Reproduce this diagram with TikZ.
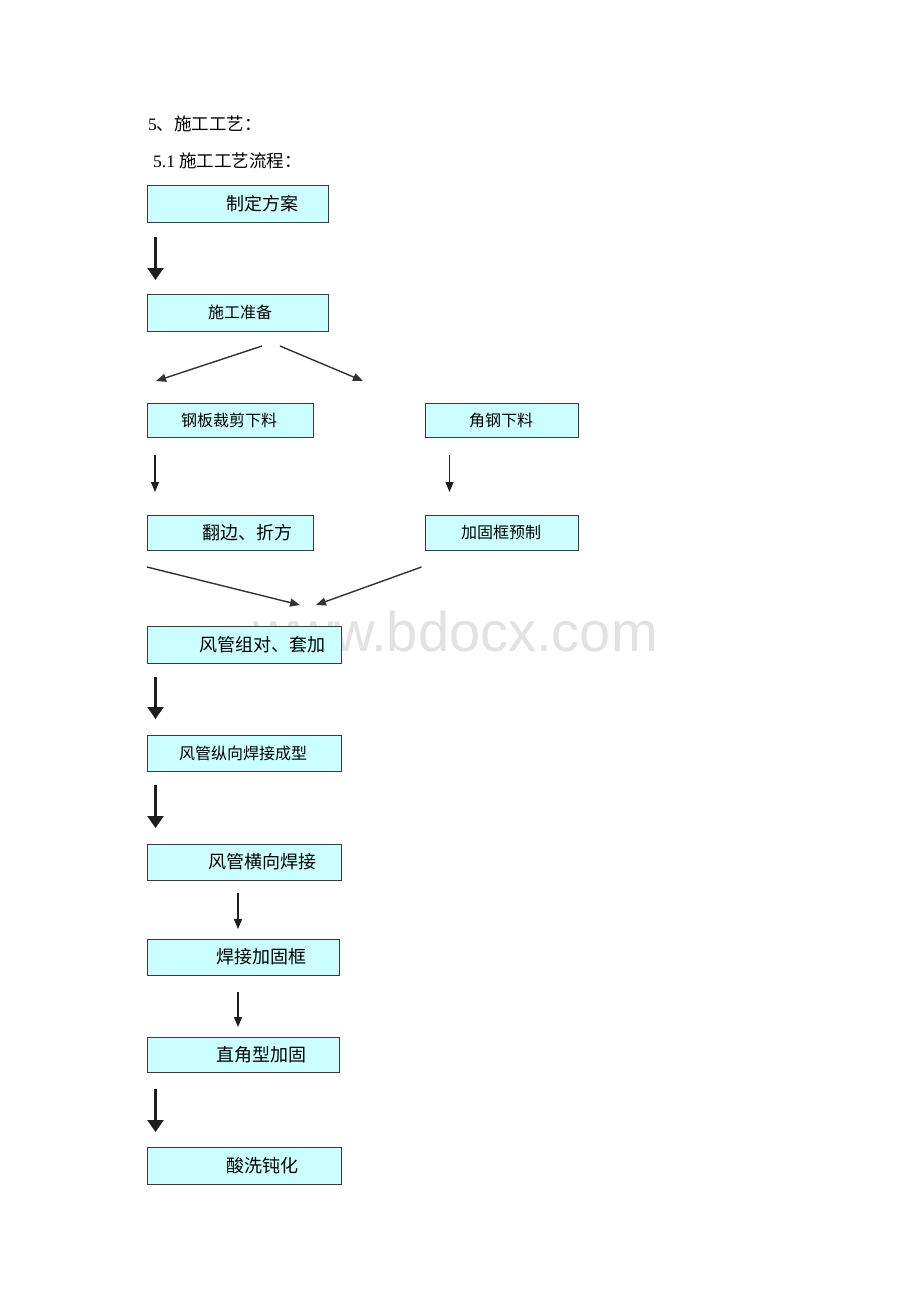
\documentclass[tikz,border=0pt]{standalone}
\usepackage{fontspec}
\setmainfont{Liberation Serif}
\newfontfamily\cjk{Noto Sans CJK SC}
\newfontfamily\wmfont{Liberation Sans}
\usetikzlibrary{arrows.meta}
\definecolor{boxfill}{HTML}{CCFFFF}
\definecolor{boxline}{HTML}{3A3A3A}
\definecolor{wmgray}{HTML}{E2E2E2}
\definecolor{arrowcol}{HTML}{1E1E1E}
\tikzset{
  stepbox/.style={draw=boxline, fill=boxfill, line width=1.2pt, inner sep=0pt, anchor=north west},
  bigtxt/.style={font=\cjk\fontsize{18}{18}\selectfont, inner sep=0pt, anchor=center},
  smalltxt/.style={font=\cjk\fontsize{16}{16}\selectfont, inner sep=0pt, anchor=center},
  headtxt/.style={anchor=base west, inner sep=0pt, font=\fontsize{17.5}{17.5}\selectfont},
  thickarrow/.style={draw=arrowcol, line width=2.2pt, -{Triangle[width=16pt,length=12pt]}},
  thinarrow/.style={draw=arrowcol, line width=1.2pt, -{Triangle[width=8pt,length=10pt]}},
  diagarrow/.style={draw=black!80, line width=1.4pt, -{Triangle[width=8pt,length=10pt]}},
}
\begin{document}
\begin{tikzpicture}[x=1pt,y=-1pt]
\useasboundingbox (0,0) rectangle (920,1302);
\fill[white] (0,0) rectangle (920,1302);

% headings
\node[headtxt] (h1) at (148,130) {5{\cjk 、施工工艺：}};
\node[headtxt] (h2) at (153,167) {5.1 {\cjk 施工工艺流程：}};

% watermark (lies behind the boxes)
\node[anchor=base west, inner sep=0pt, text=wmgray, font=\wmfont\fontsize{56}{56}\selectfont] (wm) at (253,651) {www.bdocx.com};

% boxes
\node[stepbox, minimum width=181pt, minimum height=37pt] (b1) at (147,185) {};
\node[bigtxt] (t1) at (262,203.5) {制定方案};
\node[stepbox, minimum width=181pt, minimum height=37pt] (b2) at (147,294) {};
\node[smalltxt] (t2) at (240,312.5) {施工准备};
\node[stepbox, minimum width=166pt, minimum height=34pt] (b3) at (147,403) {};
\node[smalltxt] (t3) at (229,420) {钢板裁剪下料};
\node[stepbox, minimum width=153pt, minimum height=34pt] (b4) at (425,403) {};
\node[smalltxt] (t4) at (501,420) {角钢下料};
\node[stepbox, minimum width=166pt, minimum height=35pt] (b5) at (147,515) {};
\node[bigtxt] (t5) at (247,532.5) {翻边、折方};
\node[stepbox, minimum width=153pt, minimum height=35pt] (b6) at (425,515) {};
\node[smalltxt] (t6) at (501,532.5) {加固框预制};
\node[stepbox, minimum width=194pt, minimum height=37pt] (b7) at (147,626) {};
\node[bigtxt] (t7) at (262,644.5) {风管组对、套加};
\node[stepbox, minimum width=194pt, minimum height=36pt] (b8) at (147,735) {};
\node[smalltxt] (t8) at (243,753) {风管纵向焊接成型};
\node[stepbox, minimum width=194pt, minimum height=36pt] (b9) at (147,844) {};
\node[bigtxt] (t9) at (262,862) {风管横向焊接};
\node[stepbox, minimum width=192pt, minimum height=36pt] (b10) at (147,939) {};
\node[bigtxt] (t10) at (261,957) {焊接加固框};
\node[stepbox, minimum width=192pt, minimum height=35pt] (b11) at (147,1037) {};
\node[bigtxt] (t11) at (261,1054.5) {直角型加固};
\node[stepbox, minimum width=194pt, minimum height=37pt] (b12) at (147,1147) {};
\node[bigtxt] (t12) at (262,1165.5) {酸洗钝化};

% arrow end points
\coordinate (a1s) at (155.5,237);  \coordinate (a1e) at (155.5,280);
\coordinate (d1s) at (262,346);    \coordinate (d1e) at (156,381);
\coordinate (d2s) at (280,346);    \coordinate (d2e) at (363,381);
\coordinate (v1s) at (155,455);    \coordinate (v1e) at (155,492);
\coordinate (v2s) at (449.5,455);  \coordinate (v2e) at (449.5,492);
\coordinate (c1s) at (147,567);    \coordinate (c1e) at (300,605);
\coordinate (c2s) at (421.5,567);  \coordinate (c2e) at (316,605);
\coordinate (a2s) at (155.5,677);  \coordinate (a2e) at (155.5,719);
\coordinate (a3s) at (155.5,785);  \coordinate (a3e) at (155.5,828);
\coordinate (v3s) at (238,893);    \coordinate (v3e) at (238,929);
\coordinate (v4s) at (238,992);    \coordinate (v4e) at (238,1027);
\coordinate (a4s) at (155.5,1089); \coordinate (a4e) at (155.5,1132);

\draw[thickarrow] (a1s) -- (a1e);
\draw[diagarrow] (d1s) -- (d1e);
\draw[diagarrow] (d2s) -- (d2e);
\draw[thinarrow] (v1s) -- (v1e);
\draw[thinarrow] (v2s) -- (v2e);
\draw[diagarrow] (c1s) -- (c1e);
\draw[diagarrow] (c2s) -- (c2e);
\draw[thickarrow] (a2s) -- (a2e);
\draw[thickarrow] (a3s) -- (a3e);
\draw[thinarrow] (v3s) -- (v3e);
\draw[thinarrow] (v4s) -- (v4e);
\draw[thickarrow] (a4s) -- (a4e);
\end{tikzpicture}
\end{document}
